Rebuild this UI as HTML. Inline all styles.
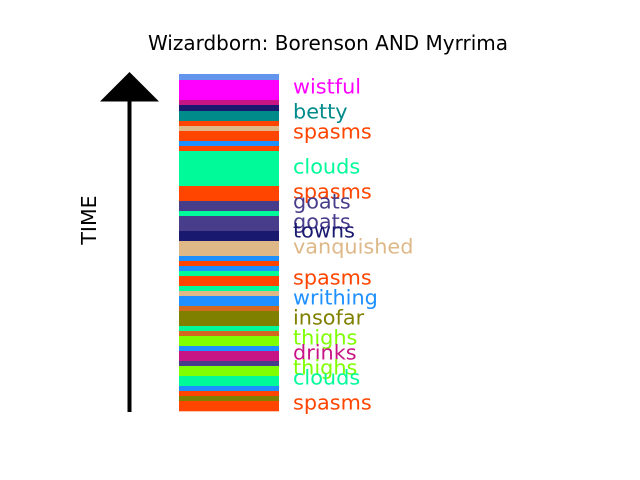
<!DOCTYPE html>
<html><head><meta charset="utf-8"><style>
body{margin:0;background:#fff;}
svg{display:block;font-family:"DejaVu Sans","Liberation Sans",sans-serif;}
</style></head><body>
<svg id="c" width="640" height="480">
<text x="328" y="50" text-anchor="middle" font-size="20">Wizardborn: Borenson AND Myrrima</text>
<line x1="129.5" y1="98" x2="129.5" y2="412" stroke="#000" stroke-width="4"/>
<polygon points="100,101.5 159,101.5 129.5,72" fill="#000"/>
<text x="96" y="220" font-size="20.5" text-anchor="middle" transform="rotate(-90 96 220)">TIME</text>
<g id="bars"></g><g id="labels"></g>
</svg>
<script>
const segDurations=[1.2,4,1,1.2,2,1,1,2,1,1,7,3,2,1,3,2,3,1,1,1,1,2,1,1,2,1,3,1,1,2,1,2,1,2,2,1,1,1,2];
const segColors=["#6495ED","#FF00FF","#C71585","#191970","#008B8B","#FF4500","#DEB887","#FF4500","#1E90FF","#FF4500","#00FA9A","#FF4500","#483D8B","#00FA9A","#483D8B","#191970","#DEB887","#1E90FF","#FF4500","#1E90FF","#00FA9A","#FF4500","#00FA9A","#DEB887","#1E90FF","#D2691E","#808000","#00FA9A","#D2691E","#7FFF00","#1E90FF","#C71585","#483D8B","#7FFF00","#00FA9A","#1E90FF","#FF4500","#808000","#FF4500"];
const labelTexts=["wistful","betty","spasms","clouds","spasms","goats","goats","towns","vanquished","spasms","writhing","insofar","thighs","drinks","thighs","clouds","spasms"];
const labelTimes=[2.6,7.6,11.6,18.6,23.6,25.6,29.6,31.4,34.6,40.8,44.8,48.8,52.8,55.8,58.8,60.8,65.8];
const labelColors=["#FF00FF","#008B8B","#FF4500","#00FA9A","#FF4500","#483D8B","#483D8B","#191970","#DEB887","#FF4500","#1E90FF","#808000","#7FFF00","#C71585","#7FFF00","#00FA9A","#FF4500"];
const NS="http://www.w3.org/2000/svg";
const total=segDurations.reduce((a,b)=>a+b,0);
const y0=74,y1=411;
const ys=t=>y0+t*(y1-y0)/total;
const bars=document.getElementById('bars');
let t=0;
segDurations.forEach((d,i)=>{
  const r=document.createElementNS(NS,'rect');
  r.setAttribute('x',179);r.setAttribute('width',100);
  r.setAttribute('y',ys(t));r.setAttribute('height',ys(t+d)-ys(t)+0.3);
  r.setAttribute('fill',segColors[i]);
  
  
  bars.appendChild(r);t+=d;
});
const labels=document.getElementById('labels');
labelTexts.forEach((s,i)=>{
  const tx=document.createElementNS(NS,'text');
  tx.setAttribute('x',293);tx.setAttribute('y',ys(labelTimes[i])+6.5);
  tx.setAttribute('font-size','20.8');tx.setAttribute('fill',labelColors[i]);
  tx.textContent=s;
  
  
  labels.appendChild(tx);
});
</script>
</body></html>
